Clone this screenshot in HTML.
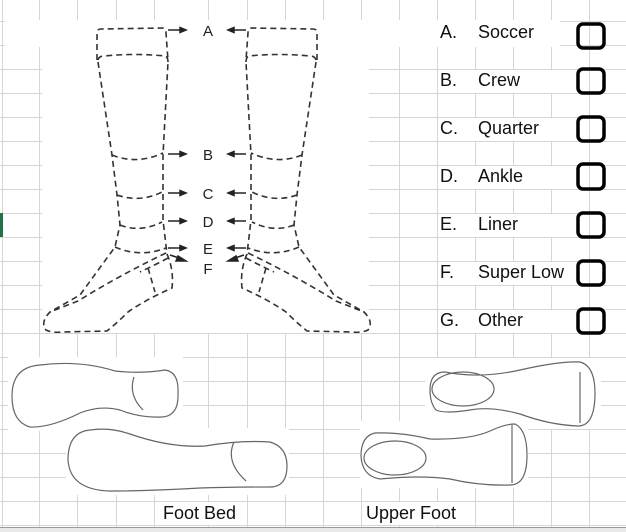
<!DOCTYPE html>
<html><head><meta charset="utf-8"><style>
html,body{margin:0;padding:0;background:#fff;}
svg{display:block;font-family:"Liberation Sans",sans-serif;}
</style></head><body>
<svg width="626" height="532" viewBox="0 0 626 532">
<g id="grid" stroke="#d6d6d6" stroke-width="1"></g>
<g fill="#fff">
<rect x="5" y="20" width="364" height="27"/>
<rect x="42" y="47" width="327" height="286"/>
<rect x="369" y="20" width="191" height="27"/>
<rect x="8" y="357" width="175" height="74"/>
<rect x="66" y="428" width="223" height="67"/>
<rect x="425" y="358" width="176" height="71"/>
<rect x="360" y="421" width="168" height="67"/>
<rect x="160" y="502" width="86" height="23"/>
<rect x="363" y="502" width="110" height="23"/>
<rect x="438" y="70" width="122" height="23"/>
<rect x="438" y="118" width="122" height="23"/>
<rect x="438" y="166" width="122" height="23"/>
<rect x="438" y="214" width="122" height="23"/>
<rect x="438" y="262" width="136" height="23"/>
<rect x="438" y="310" width="122" height="23"/>
</g>
<rect x="0" y="213" width="3" height="24" fill="#217346"/>

<g id="sockL" fill="none" stroke="#333" stroke-width="1.6" stroke-dasharray="6,4">
<path d="M97,60 L97,33 Q97,29 101,29 L163,28 Q166,29 166,33 L168,60"/>
<path d="M98,60 Q99,56 104,56 Q135,53 165,56 Q168,57 168,62"/>
<path d="M98,62 L112,155 L117,195 L120,225 L115,247 L80,295 L50,312 Q40,322 46,330 Q52,333 62,332 L107,331 Q118,322 128,312 Q145,300 172,288 Q174,270 167,254 L163,220 L163,190 L163,155 L168,62"/>
<path d="M112,155 Q137,165 163,153"/>
<path d="M117,195 Q140,203 162,192"/>
<path d="M120,225 Q140,233 162,222"/>
<path d="M115,247 Q140,258 166,248"/>
<path d="M166,253 Q120,275 78,301 L50,312"/>
<path d="M168,258 Q155,265 140,272 M148,268 L155,292"/>
</g>
<use href="#sockL" transform="translate(414,0) scale(-1,1)"/>

<g stroke="#222" stroke-width="1.5" fill="#222">
<line x1="168" y1="30" x2="182" y2="30"/><polygon points="186,30 180,27.5 180,32.5"/>
<line x1="246" y1="30" x2="232" y2="30"/><polygon points="228,30 234,27.5 234,32.5"/>
<line x1="168" y1="154" x2="182" y2="154"/><polygon points="186,154 180,151.5 180,156.5"/>
<line x1="246" y1="154" x2="232" y2="154"/><polygon points="228,154 234,151.5 234,156.5"/>
<line x1="168" y1="193" x2="182" y2="193"/><polygon points="186,193 180,190.5 180,195.5"/>
<line x1="246" y1="193" x2="232" y2="193"/><polygon points="228,193 234,190.5 234,195.5"/>
<line x1="168" y1="221" x2="182" y2="221"/><polygon points="186,221 180,218.5 180,223.5"/>
<line x1="246" y1="221" x2="232" y2="221"/><polygon points="228,221 234,218.5 234,223.5"/>
<line x1="168" y1="248" x2="182" y2="248"/><polygon points="186,248 180,245.5 180,250.5"/>
<line x1="246" y1="248" x2="232" y2="248"/><polygon points="228,248 234,245.5 234,250.5"/>
<line x1="170" y1="255" x2="182" y2="259"/><polygon points="186,261 178,256 176,261"/>
<line x1="244" y1="255" x2="232" y2="259"/><polygon points="228,261 236,256 238,261"/>
</g>
<g font-size="15" fill="#222" text-anchor="middle">
<text x="208" y="36">A</text><text x="208" y="160">B</text><text x="208" y="199">C</text>
<text x="208" y="227">D</text><text x="208" y="254">E</text><text x="208" y="274">F</text>
</g>

<g font-size="18" fill="#111">
<text x="440" y="38">A.</text><text x="478" y="38">Soccer</text>
<text x="440" y="86">B.</text><text x="478" y="86">Crew</text>
<text x="440" y="134">C.</text><text x="478" y="134">Quarter</text>
<text x="440" y="182">D.</text><text x="478" y="182">Ankle</text>
<text x="440" y="230">E.</text><text x="478" y="230">Liner</text>
<text x="440" y="278">F.</text><text x="478" y="278">Super Low</text>
<text x="440" y="326">G.</text><text x="478" y="326">Other</text>
</g>
<g fill="none" stroke="#000" stroke-width="3.5">
<rect x="578" y="24" width="26" height="24" rx="5"/>
<rect x="578" y="69" width="26" height="24" rx="5"/>
<rect x="578" y="117" width="26" height="24" rx="5"/>
<rect x="578" y="164" width="26" height="25" rx="5"/>
<rect x="578" y="213" width="26" height="24" rx="5"/>
<rect x="578" y="261" width="26" height="24" rx="5"/>
<rect x="578" y="309" width="26" height="24" rx="5"/>
</g>

<g fill="none" stroke="#666" stroke-width="1.2">
<path d="M40,365 Q80,360 115,371 Q140,374 165,370 Q179,372 178,393 Q179,416 162,417 Q140,418 120,410 Q100,405 80,413 Q50,428 30,427 Q12,422 12,396 Q12,367 40,365 Z M134,377 Q128,395 143,410"/>
<path d="M90,430 Q110,427 130,434 Q170,448 205,446 Q240,440 270,442 Q287,447 287,466 Q287,487 270,487 Q230,487 200,488 Q150,491 110,491 Q70,490 68,460 Q68,432 90,430 Z M234,442 Q225,462 246,481"/>
<path d="M445,372 Q480,379 520,370 Q560,361 580,362 Q595,366 595,393 Q595,426 578,426 Q550,425 520,414 Q490,406 470,410 Q445,414 436,410 Q430,403 430,390 Q430,372 445,372 Z M580,372 L580,423"/>
<ellipse cx="463" cy="389" rx="31" ry="17"/>
<path d="M375,433 Q400,432 430,439 Q470,440 490,431 Q505,424 515,424 Q527,430 527,455 Q527,485 510,485 Q480,486 450,479 Q420,475 380,479 Q362,476 361,456 Q361,436 375,433 Z M512,425 L512,483"/>
<ellipse cx="395" cy="458" rx="31" ry="17"/>
</g>
<g font-size="18" fill="#111">
<text x="163" y="519">Foot Bed</text>
<text x="366" y="519">Upper Foot</text>
</g>
<rect x="0" y="528" width="626" height="4" fill="#e8e8e8"/>
<line x1="0" y1="527.5" x2="626" y2="527.5" stroke="#9a9a9a"/>
</svg>
<script>
const cols=[2,39,77,116,154,208,247,285,323,361,399,437,475,513,551,589];
const rows=[];for(let y=21;y<=525;y+=24)rows.push(y);
const g=document.getElementById('grid');
cols.forEach(x=>{const l=document.createElementNS('http://www.w3.org/2000/svg','line');


l.setAttribute('x1',x+0.5);l.setAttribute('x2',x+0.5);l.setAttribute('y1',0);l.setAttribute('y2',527);g.appendChild(l);});
rows.forEach(y=>{const l=document.createElementNS('http://www.w3.org/2000/svg','line');


l.setAttribute('x1',0);l.setAttribute('x2',626);l.setAttribute('y1',y+0.5);l.setAttribute('y2',y+0.5);g.appendChild(l);});
</script>
</body></html>
